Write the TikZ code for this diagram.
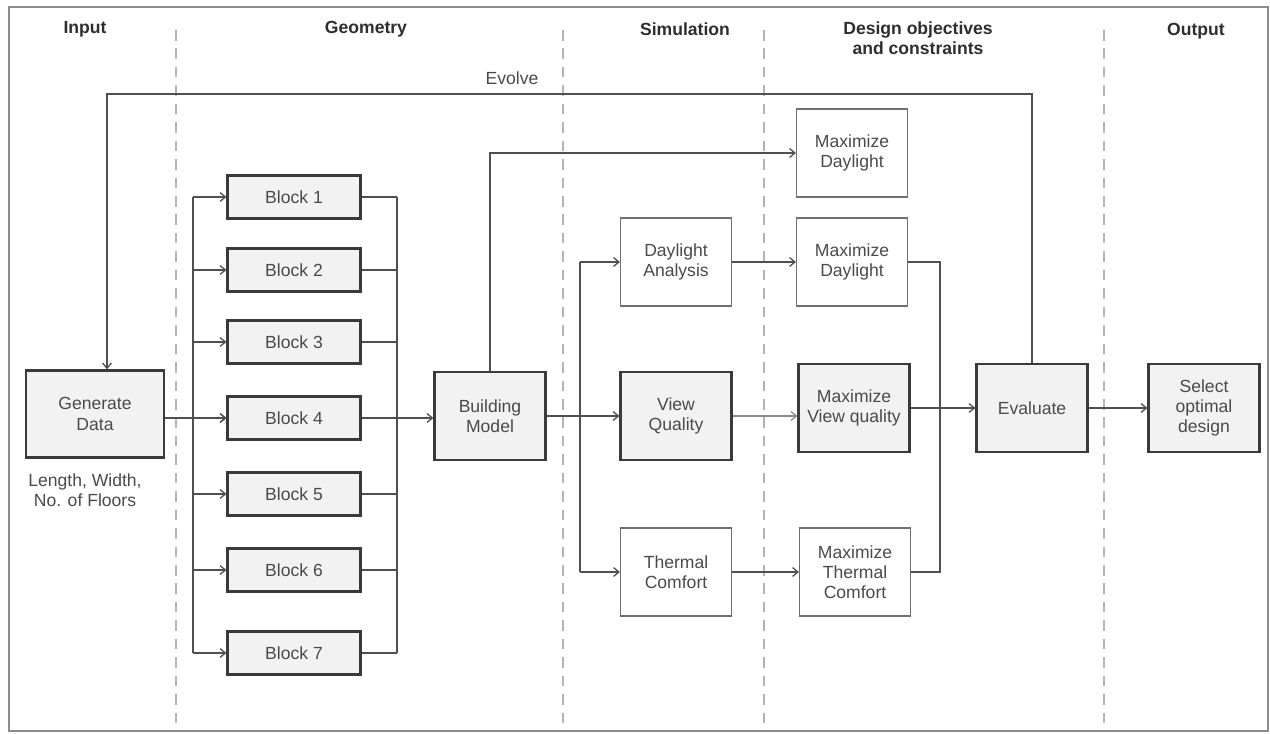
\documentclass[tikz,border=0pt]{standalone}
\usepackage{fontspec}
\setmainfont{Liberation Sans}
\usepackage{tikz}
\usetikzlibrary{arrows.meta}
\definecolor{framec}{HTML}{8C8C8C}
\definecolor{guide}{HTML}{B4B4B4}
\definecolor{edge}{HTML}{3A3A3A}
\definecolor{thinedge}{HTML}{707070}
\definecolor{wirec}{HTML}{505050}
\definecolor{softwire}{HTML}{8A8A8A}
\definecolor{boxfill}{HTML}{F2F2F2}
\definecolor{ink}{HTML}{4A4A4A}
\definecolor{head}{HTML}{2E2E2E}
\tikzset{
  frameline/.style={draw=framec, line width=1.1pt},
  dashedline/.style={draw=guide, line width=0.8pt, dash pattern=on 6pt off 4.5pt},
  wire/.style={draw=wirec, line width=0.75pt},
  arr/.style={wire, -{Straight Barb[length=3pt,width=5pt]}},
  gbox/.style={draw=edge, fill=boxfill, line width=1.3pt, text=ink, align=center,
    inner sep=2pt, font=\fontsize{10}{11.5}\selectfont},
  wbox/.style={draw=thinedge, fill=white, line width=0.7pt, text=ink, align=center,
    inner sep=2pt, font=\fontsize{10}{11.5}\selectfont},
  blk/.style={gbox, minimum width=2.66cm, minimum height=0.86cm},
  bigbox/.style={minimum width=2.22cm, minimum height=1.76cm},
  hdr/.style={text=head, align=center, font=\bfseries\fontsize{10}{11.5}\selectfont},
  lbl/.style={text=ink, align=center, font=\fontsize{10}{11.5}\selectfont}
}

\begin{document}
\begin{tikzpicture}[x=0.02cm, y=-0.02cm]
  \useasboundingbox (0,0) rectangle (1270,733);
  \draw[frameline] (9,7) rectangle (1268,731);

  % lanes
  \foreach \x in {176,563,764,1104}
    \draw[dashedline] (\x,30) -- (\x,728);

  \node[hdr] (hin) at (85,29) {Input};
  \node[hdr] (hgeo) at (366,29) {Geometry};
  \node[hdr] (hsim) at (685,29) {Simulation};
  \node[hdr] (hobj) at (918,38) {Design objectives\\and constraints};
  \node[hdr] (hout) at (1196,31) {Output};

  % input
  \node[gbox, minimum width=2.76cm, minimum height=1.74cm] (gen) at (95,414) {Generate\\Data};
  \node[lbl] (genlbl) at (85,490) {Length, Width,\\No. of Floors};

  % geometry
  \foreach \i/\y in {1/197,2/270,3/342,4/418,5/494,6/570,7/653}
    \node[blk] (blk\i) at (294,\y) {Block \i};
  \node[gbox, bigbox] (bm) at (490,416) {Building\\Model};

  % simulation
  \node[wbox, bigbox] (da) at (676,262) {Daylight\\Analysis};
  \node[gbox, bigbox] (vq) at (676,416) {View\\Quality};
  \node[wbox, bigbox] (tc) at (676,572) {Thermal\\Comfort};

  % objectives
  \node[wbox, bigbox] (md1) at (852,153) {Maximize\\Daylight};
  \node[wbox, bigbox] (md2) at (852,262) {Maximize\\Daylight};
  \node[gbox, bigbox] (mvq) at (854,408) {Maximize\\View quality};
  \node[wbox, bigbox] (mtc) at (855,572) {Maximize\\Thermal\\Comfort};

  \node[gbox, bigbox] (ev) at (1032,408) {Evaluate};
  \node[gbox, bigbox] (sel) at (1204,408) {Select\\optimal\\design};

  \coordinate (lbus) at (193,0);
  \coordinate (rbus) at (397,0);
  \coordinate (sbus) at (580,0);
  \coordinate (dbus) at (940,0);
  \coordinate (evl) at (107,94);

  % evolve loop
  \draw[arr] (ev.north) |- (evl) -- (evl |- gen.north);
  \node[lbl] (evolve) at (512,78) {Evolve};

  \draw[arr] (gen.east |- blk4) -- (blk4.west);
  \draw[wire] (lbus |- blk1) -- (lbus |- blk7);
  \draw[wire] (rbus |- blk1) -- (rbus |- blk7);
  \foreach \i in {1,...,7} {
    \draw[arr] (lbus |- blk\i) -- (blk\i.west);
    \draw[wire] (blk\i.east) -- (rbus |- blk\i);
  }
  \draw[arr] (rbus |- blk4) -- (blk4 -| bm.west);

  \draw[arr] (bm.north) |- (md1.west);
  \draw[arr] (bm.east) -- (vq.west);
  \draw[wire] (sbus |- da) -- (sbus |- tc);
  \draw[arr] (sbus |- da) -- (da.west);
  \draw[arr] (sbus |- tc) -- (tc.west);

  \draw[arr] (da.east) -- (md2.west);
  \draw[arr, draw=softwire] (vq.east) -- (vq.east -| mvq.west);
  \draw[arr] (tc.east) -- (mtc.west);

  \draw[wire] (md2.east) -- (dbus |- md2) -- (dbus |- mtc) -- (mtc.east);
  \draw[arr] (mvq.east) -- (ev.west);
  \draw[arr] (ev.east) -- (sel.west);
\end{tikzpicture}
\end{document}
